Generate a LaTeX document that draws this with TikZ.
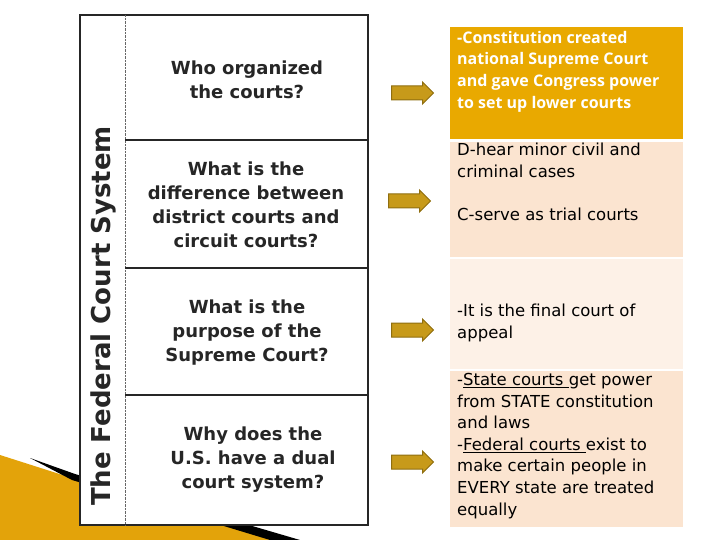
\documentclass[tikz,border=0pt]{standalone}
\usepackage{fontspec}
\setmainfont{DejaVu Sans}
\newfontfamily\qfont{DejaVu Sans}
\newfontfamily\afont{Open Sans}
\usetikzlibrary{shapes.arrows}
\definecolor{gold}{HTML}{E9A900}
\definecolor{peach}{HTML}{FBE4D0}
\definecolor{peachlt}{HTML}{FDF1E7}
\definecolor{arr}{HTML}{C79A1A}
\definecolor{arrd}{HTML}{8F6E10}
\tikzset{
 qtext/.style={font=\qfont\bfseries\fontsize{18}{24}\selectfont, align=center, text=black!85},
 atext/.style={anchor=north west, align=flush left, text width=226pt, font=\fontsize{16.5}{21.6}\selectfont, inner sep=0pt},
 garrow/.style={single arrow, fill=arr, draw=arrd, line width=1pt, minimum height=42pt, minimum width=22pt, single arrow head extend=2pt, single arrow head indent=0pt, inner sep=3pt, anchor=center},
 divider/.style={line width=2.2pt, black!85}
}
\begin{document}
\begin{tikzpicture}[x=1pt,y=-1pt]
\useasboundingbox (0,0) rectangle (720,540);
% decoration bottom-left
\fill[gold!85!brown] (0,455) -- (72,478) -- (290,540) -- (0,540) -- cycle;
\fill[black] (30,458) -- (75,474) -- (300,540) -- (270,540) -- (72,480) -- cycle;
% panel
\fill[white] (80,15) rectangle (368,525);
\draw[line width=2pt, black!85] (80,15) rectangle (368,525);
\draw[densely dotted, black!60] (125,15) -- (125,525);
\draw[divider] (125,140) -- (368,140);
\draw[divider] (125,268) -- (368,268);
\draw[divider] (125,395) -- (368,395);
\node[rotate=90, font=\qfont\bfseries\fontsize{26}{30}\selectfont, text=black!85] (title) at (103,316) {The Federal Court System};
\node[qtext] (q1) at (247,80) {Who organized\\the courts?};
\node[qtext] (q2) at (246,205) {What is the\\difference between\\district courts and\\circuit courts?};
\node[qtext] (q3) at (247,333) {What is the\\purpose of the\\Supreme Court?};
\node[qtext] (q4) at (253,460) {Why does the\\U.S. have a dual\\court system?};
% answer boxes
\fill[gold] (450,27) rectangle (683,139);
\fill[peach] (450,142) rectangle (683,257);
\fill[peachlt] (450,259) rectangle (683,369);
\fill[peach] (450,371) rectangle (683,527);
\node[atext, text width=215pt, text=white, font=\afont\bfseries\fontsize{16}{21.6}\selectfont] (a1) at (457,31) {-Constitution created national Supreme Court and gave Congress power to set up lower courts};
\node[atext] (a2) at (457,143) {D-hear minor civil and criminal cases\\[21.6pt]C-serve as trial courts};
\node[atext] (a3) at (457,304) {-It is the final court of appeal};
\node[atext] (a4) at (457,373) {-\underline{State courts }get power from STATE constitution and laws\\-\underline{Federal courts }exist to make certain people in EVERY state are treated equally};
% arrows
\node[garrow] (r1) at (409,93) {};
\node[garrow] (r2) at (406,201) {};
\node[garrow] (r3) at (409,330) {};
\node[garrow] (r4) at (409,462) {};
\end{tikzpicture}
\end{document}
